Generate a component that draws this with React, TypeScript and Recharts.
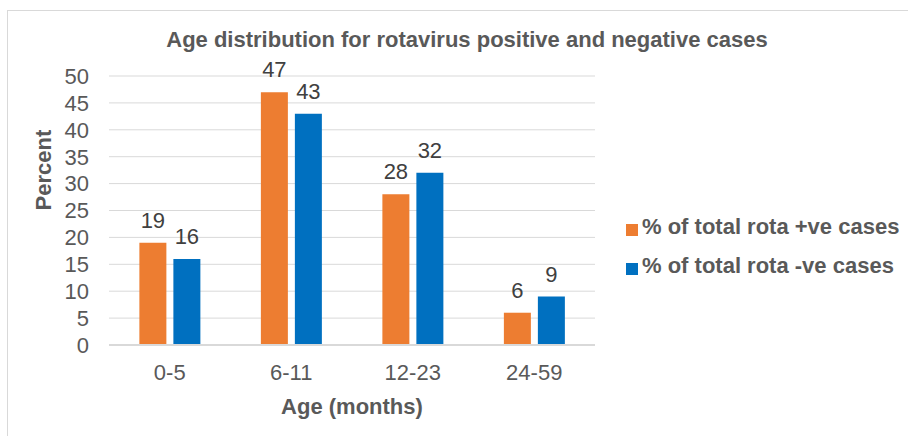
import { BarChart, Bar, XAxis, YAxis, CartesianGrid, Legend, LabelList } from "recharts";

const ageGroups = ["0-5", "6-11", "12-23", "24-59"];
const rotaPositive = [19, 47, 28, 6];
const rotaNegative = [16, 43, 32, 9];
const yTicks = [0, 5, 10, 15, 20, 25, 30, 35, 40, 45, 50];

const data = ageGroups.map((age, i) => ({
    age,
    positive: rotaPositive[i],
    negative: rotaNegative[i],
}));

const font = "'Liberation Sans', Arial, sans-serif";
const grey = "#595959";

export default function App() {
    return (
        <div style={{ position: "absolute", left: 0, top: 0, width: 908, height: 436, background: "#fff", fontFamily: font }}>
            <div
                style={{
                    position: "absolute",
                    left: 7,
                    top: 10,
                    width: 920,
                    height: 440,
                    border: "1px solid #d9d9d9",
                    boxSizing: "border-box",
                }}
            />
            <div
                style={{
                    position: "absolute",
                    left: 0,
                    width: 934,
                    top: 27,
                    textAlign: "center",
                    fontSize: 22,
                    fontWeight: "bold",
                    color: grey,
                }}
            >
                Age distribution for rotavirus positive and negative cases
            </div>
            <BarChart
                width={908}
                height={436}
                data={data}
                margin={{ top: 76, right: 23, bottom: 11, left: 0 }}
                barCategoryGap="25%"
                barGap={7}
                style={{ position: "absolute", left: 0, top: 0 }}
            >
                <CartesianGrid vertical={false} stroke="#d9d9d9" />
                <XAxis
                    dataKey="age"
                    height={80}
                    tickLine={false}
                    axisLine={{ stroke: "#d9d9d9", strokeWidth: 2 }}
                    tick={{ fill: grey, fontSize: 22, fontFamily: font }}
                    tickMargin={13}
                    label={{
                        value: "Age (months)",
                        position: "insideBottom",
                        offset: 11,
                        fill: grey,
                        fontSize: 22,
                        fontWeight: "bold",
                        fontFamily: font,
                    }}
                />
                <YAxis
                    width={109}
                    domain={[0, 50]}
                    ticks={yTicks}
                    interval={0}
                    tickLine={false}
                    axisLine={false}
                    tick={{ fill: grey, fontSize: 22, fontFamily: font }}
                    tickMargin={14}
                    label={{
                        value: "Percent",
                        angle: -90,
                        position: "insideLeft",
                        offset: 43,
                        fill: grey,
                        fontSize: 22,
                        fontWeight: "bold",
                        fontFamily: font,
                    }}
                />
                <Legend
                    layout="vertical"
                    align="right"
                    verticalAlign="top"
                    iconType="square"
                    iconSize={12}
                    wrapperStyle={{ width: 290, left: 626, top: 208, lineHeight: "37px", fontFamily: font }}
                    formatter={(value) => (
                        <span style={{ color: grey, fontSize: 22, fontWeight: "bold" }}>{value}</span>
                    )}
                />
                <Bar dataKey="positive" name="% of total rota +ve cases" fill="#ED7D31" isAnimationActive={false}>
                    <LabelList dataKey="positive" position="top" offset={15} fill="#404040" fontSize={22} fontFamily={font} />
                </Bar>
                <Bar dataKey="negative" name="% of total rota -ve cases" fill="#0070C0" isAnimationActive={false}>
                    <LabelList dataKey="negative" position="top" offset={15} fill="#404040" fontSize={22} fontFamily={font} />
                </Bar>
            </BarChart>
        </div>
    );
}
